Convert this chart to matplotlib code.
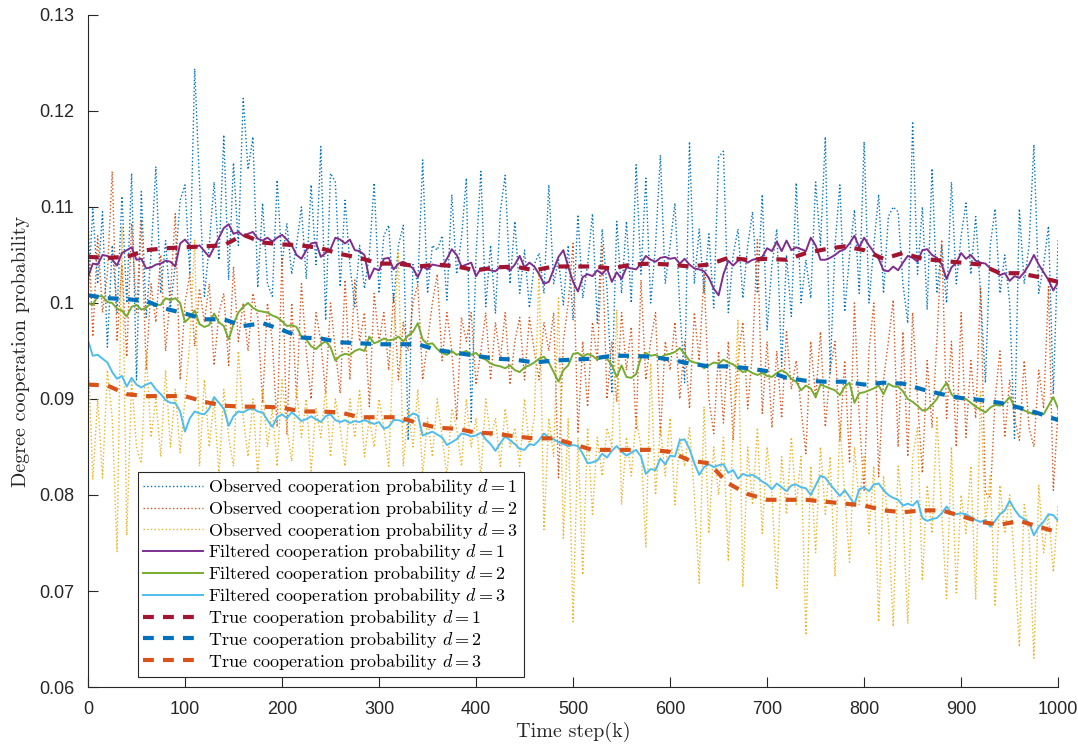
import numpy as np
import matplotlib
matplotlib.use("Agg")
import matplotlib.pyplot as plt

plt.rcParams['mathtext.fontset'] = 'cm'
plt.rcParams['axes.unicode_minus'] = False

# time axis: observations / filter output every 5 steps, true values every 20 steps
steps = np.arange(0, 1001, 5)
true_steps = np.arange(0, 1001, 20)

obs_d1 = [
    .1005, .1098, .1020, .1095, .0954, .1060, .0990, .1111, .1000, .1135,
    .0920, .1116, .0985, .1050, .1142, .1010, .1065, .0995, .1040, .1107,
    .1123, .1030, .1244, .1124, .1007, .1060, .1126, .1045, .1175, .1024,
    .1146, .1060, .1213, .1139, .1173, .1016, .1104, .1020, .1007, .1128,
    .1040, .1083, .1030, .1060, .1100, .1025, .1123, .1040, .1163, .0982,
    .1135, .1126, .1017, .1107, .1040, .0996, .1060, .1015, .1050, .1125,
    .1010, .1070, .1081, .1000, .1060, .1081, .0857, .1040, .1020, .1149,
    .1010, .1060, .1055, .1070, .1003, .1113, .1030, .1068, .1130, .0876,
    .1050, .1137, .0996, .1060, .0989, .1095, .1133, .1020, .1085, .1010,
    .1055, .0995, .1040, .1052, .1010, .1123, .1020, .1045, .0998, .1060,
    .0982, .1092, .1005, .1040, .1093, .0979, .1077, .1015, .0906, .1085,
    .1010, .1085, .1000, .1144, .1030, .1130, .1000, .1060, .1154, .1020,
    .1060, .1104, .0995, .0917, .1168, .1020, .1077, .1010, .1072, .0995,
    .1152, .1158, .0990, .1050, .1077, .1005, .1060, .1095, .1010, .1113,
    .0972, .1040, .1077, .0934, .1050, .0986, .1125, .1000, .1045, .1005,
    .1126, .1060, .1173, .0927, .1060, .1123, .0991, .1050, .1097, .1010,
    .1168, .1000, .1060, .1113, .1010, .1090, .1100, .1095, .1020, .0979,
    .1189, .1030, .1100, .0993, .1140, .1010, .1060, .1000, .1126, .1020,
    .1070, .1104, .1030, .1090, .1010, .0917, .1060, .1098, .1010, .1050,
    .1000, .0859, .1098, .1020, .1060, .1165, .1010, .1040, .1080, .0905,
    .1068,
]

obs_d2 = [
    .1090, .0965, .1070, .0990, .1030, .1137, .0960, .1040, .0944, .1083,
    .0990, .1087, .0930, .1020, .0980, .1050, .0950, .1010, .1093, .0920,
    .1000, .1030, .0955, .1015, .0980, .1020, .0935, .0990, .1010, .0935,
    .1038, .0960, .1000, .0950, .1010, .0985, .0896, .1000, .0960, .0871,
    .1048, .0863, .1000, .0900, .1020, .0950, .0900, .0990, .0960, .0905,
    .1000, .0950, .0906, .1024, .0920, .1024, .0960, .0990, .0892, .1010,
    .0960, .0990, .0930, .1010, .0920, .0980, .0950, .1000, .1020, .0920,
    .0960, .1000, .1030, .0940, .0990, .0950, .0878, .0985, .0960, .0990,
    .0915, .0950, .0990, .0920, .0980, .0940, .0990, .0915, .0960, .0985,
    .0920, .0985, .0950, .0920, .0980, .0950, .0990, .0818, .0960, .1000,
    .1062, .0864, .0960, .0892, .0980, .0940, .1059, .0900, .0960, .0897,
    .0990, .0930, .0975, .0868, .1024, .0920, .0960, .0990, .0861, .0960,
    .0930, .0980, .0900, .0960, .0890, .0990, .0940, .1031, .0900, .0864,
    .0950, .0875, .0960, .0857, .0940, .0980, .0890, .0950, .1066, .0885,
    .0960, .0870, .0950, .0880, .0970, .0910, .0940, .0890, .0843, .0960,
    .0900, .0970, .0871, .0930, .0960, .0857, .0940, .0833, .1000, .0880,
    .0805, .0950, .1000, .0819, .0920, .0960, .1003, .0850, .0970, .0840,
    .0990, .0900, .0823, .0940, .0870, .0960, .1066, .0880, .0960, .0850,
    .0990, .0860, .0940, .0880, .1017, .0802, .0798, .0900, .0950, .0860,
    .0920, .0880, .0857, .0940, .0870, .0850, .0930, .0890, .1017, .0805,
    .0890,
]

obs_d3 = [
    .0950, .0816, .0900, .0818, .0930, .0880, .0741, .1080, .0758, .0920,
    .0850, .0833, .0950, .0860, .0900, .0840, .0930, .0850, .0910, .0844,
    .0900, .0960, .1066, .0830, .0920, .0850, .0900, .0820, .0910, .0860,
    .0830, .0950, .0880, .0840, .0900, .0820, .0910, .0850, .0890, .0830,
    .0920, .0870, .0835, .0910, .0860, .0900, .0825, .0890, .0860, .0910,
    .0840, .0900, .0870, .0830, .0900, .0860, .0910, .0840, .0880, .0850,
    .0900, .0870, .0830, .0960, .1052, .0830, .0890, .0850, .0910, .0820,
    .0880, .0840, .0900, .0860, .0820, .0890, .0870, .0830, .0900, .0850,
    .0880, .0819, .0900, .0860, .0880, .0830, .0890, .0850, .0870, .0830,
    .0900, .0850, .0880, .1036, .0764, .0880, .0840, .1005, .0755, .0880,
    .0668, .0860, .0717, .0870, .0780, .0860, .0820, .0870, .0850, .0993,
    .0790, .0860, .0820, .0880, .0850, .0746, .0937, .0800, .0870, .0820,
    .0880, .0790, .0860, .0830, .0870, .0800, .0708, .0892, .0760, .0850,
    .0800, .0860, .0731, .0870, .0982, .0704, .0850, .0790, .0870, .0760,
    .0850, .0800, .0703, .0840, .0780, .0860, .0790, .0840, .0654, .0830,
    .0740, .0850, .0780, .0840, .0715, .0875, .0800, .0730, .0850, .0790,
    .0840, .0760, .0830, .0668, .0820, .0770, .0663, .0830, .0780, .0666,
    .0840, .0870, .0711, .0810, .0760, .0882, .0780, .0692, .0850, .0698,
    .0800, .0760, .0830, .0691, .0909, .0770, .0820, .0684, .0810, .0760,
    .0800, .0730, .0642, .0790, .0760, .0630, .0810, .0740, .0780, .0720,
    .0790,
]

filt_d1 = [
    .1027, .1041, .1040, .1050, .1049, .1045, .1039, .1052, .1055, .1058,
    .1045, .1046, .1036, .1037, .1040, .1041, .1044, .1043, .1038, .1062,
    .1066, .1060, .1058, .1060, .1054, .1048, .1058, .1068, .1078, .1082,
    .1072, .1074, .1070, .1072, .1074, .1067, .1065, .1068, .1064, .1068,
    .1071, .1066, .1060, .1050, .1046, .1055, .1062, .1063, .1048, .1052,
    .1056, .1068, .1066, .1062, .1066, .1055, .1054, .1050, .1025, .1036,
    .1034, .1046, .1047, .1035, .1041, .1043, .1040, .1036, .1027, .1038,
    .1035, .1040, .1039, .1038, .1046, .1056, .1050, .1038, .1040, .1042,
    .1028, .1036, .1036, .1034, .1033, .1038, .1037, .1034, .1040, .1049,
    .1037, .1042, .1038, .1030, .1020, .1022, .1035, .1048, .1055, .1038,
    .1022, .1012, .1027, .1030, .1028, .1034, .1030, .1036, .1022, .1032,
    .1025, .1037, .1036, .1035, .1041, .1049, .1045, .1043, .1047, .1048,
    .1046, .1047, .1041, .1046, .1040, .1036, .1035, .1033, .1026, .1015,
    .1008, .1030, .1044, .1039, .1044, .1045, .1042, .1045, .1046, .1048,
    .1057, .1054, .1064, .1054, .1065, .1055, .1058, .1056, .1054, .1068,
    .1060, .1045, .1045, .1047, .1050, .1054, .1056, .1062, .1070, .1058,
    .1068, .1060, .1053, .1046, .1034, .1033, .1038, .1034, .1042, .1049,
    .1047, .1043, .1055, .1056, .1050, .1047, .1040, .1025, .1037, .1042,
    .1052, .1046, .1050, .1044, .1042, .1041, .1036, .1033, .1029, .1031,
    .1023, .1028, .1026, .1032, .1040, .1050, .1040, .1032, .1024, .1013,
    .1022,
]

filt_d2 = [
    .1000, .0998, .1007, .1007, .1001, .1000, .0994, .0992, .0986, .0996,
    .0998, .0993, .0995, .1000, .0998, .0998, .1005, .1003, .1005, .1000,
    .0980, .0985, .0992, .0978, .0975, .0977, .0989, .0980, .0976, .0962,
    .0978, .0990, .0996, .1000, .0995, .0992, .0991, .0990, .0987, .0985,
    .0981, .0976, .0977, .0975, .0965, .0962, .0955, .0952, .0957, .0960,
    .0954, .0940, .0945, .0947, .0946, .0950, .0952, .0950, .0965, .0958,
    .0960, .0963, .0961, .0962, .0965, .0960, .0966, .0970, .0979, .0962,
    .0957, .0958, .0952, .0948, .0946, .0950, .0946, .0948, .0950, .0946,
    .0948, .0943, .0941, .0937, .0935, .0934, .0932, .0935, .0930, .0928,
    .0933, .0935, .0938, .0942, .0944, .0938, .0928, .0918, .0930, .0935,
    .0947, .0948, .0944, .0947, .0945, .0941, .0944, .0942, .0935, .0923,
    .0935, .0923, .0922, .0926, .0943, .0948, .0945, .0946, .0943, .0946,
    .0947, .0949, .0953, .0947, .0940, .0938, .0937, .0932, .0935, .0938,
    .0937, .0941, .0938, .0936, .0932, .0928, .0930, .0927, .0925, .0927,
    .0924, .0923, .0927, .0930, .0927, .0921, .0918, .0909, .0914, .0911,
    .0902, .0915, .0913, .0911, .0909, .0904, .0913, .0917, .0896, .0906,
    .0907, .0909, .0911, .0914, .0905, .0916, .0913, .0913, .0908, .0900,
    .0897, .0893, .0888, .0889, .0894, .0900, .0910, .0917, .0905, .0900,
    .0902, .0900, .0896, .0892, .0889, .0886, .0891, .0894, .0893, .0896,
    .0902, .0892, .0891, .0888, .0886, .0884, .0885, .0884, .0893, .0902,
    .0890,
]

filt_d3 = [
    .0961, .0945, .0946, .0942, .0938, .0928, .0921, .0924, .0913, .0922,
    .0915, .0912, .0915, .0917, .0910, .0905, .0899, .0896, .0896, .0887,
    .0866, .0880, .0887, .0885, .0884, .0890, .0902, .0896, .0890, .0872,
    .0882, .0887, .0886, .0889, .0890, .0887, .0886, .0878, .0871, .0881,
    .0884, .0880, .0886, .0882, .0877, .0879, .0882, .0879, .0876, .0882,
    .0884, .0878, .0876, .0878, .0875, .0877, .0876, .0878, .0876, .0874,
    .0876, .0869, .0871, .0878, .0878, .0876, .0881, .0885, .0883, .0862,
    .0864, .0866, .0863, .0860, .0852, .0855, .0858, .0864, .0863, .0861,
    .0862, .0865, .0858, .0853, .0846, .0854, .0861, .0857, .0853, .0848,
    .0847, .0853, .0852, .0857, .0864, .0860, .0858, .0855, .0853, .0851,
    .0852, .0851, .0843, .0833, .0834, .0836, .0843, .0839, .0846, .0851,
    .0845, .0841, .0844, .0847, .0840, .0822, .0827, .0826, .0838, .0832,
    .0841, .0840, .0857, .0858, .0848, .0833, .0821, .0829, .0832, .0829,
    .0831, .0832, .0823, .0826, .0817, .0822, .0820, .0821, .0818, .0814,
    .0811, .0806, .0812, .0808, .0804, .0810, .0811, .0808, .0807, .0800,
    .0810, .0820, .0818, .0811, .0805, .0799, .0805, .0798, .0790, .0806,
    .0808, .0804, .0811, .0812, .0805, .0800, .0797, .0795, .0789, .0791,
    .0789, .0794, .0776, .0773, .0775, .0776, .0781, .0788, .0781, .0780,
    .0781, .0780, .0777, .0774, .0772, .0774, .0767, .0773, .0780, .0784,
    .0794, .0785, .0778, .0775, .0771, .0758, .0767, .0772, .0780, .0779,
    .0773,
]

true_d1 = [
    .1048, .1047, .1048, .1055, .1057, .1058, .1059, .1060, .1071, .1063,
    .1061, .1060, .1057, .1051, .1047, .1041, .1041, .1038, .1040, .1038,
    .1034, .1037, .1038, .1034, .1038, .1038, .1038, .1036, .1040, .1041,
    .1040, .1038, .1040, .1047, .1045, .1046, .1045, .1052, .1056, .1059,
    .1055, .1046, .1052, .1046, .1044, .1042, .1040, .1031, .1031, .1027,
    .1022,
]

true_d2 = [
    .1008, .1005, .1004, .1002, .0994, .0989, .0983, .0983, .0976, .0979,
    .0972, .0964, .0963, .0959, .0958, .0957, .0957, .0957, .0951, .0948,
    .0945, .0942, .0941, .0938, .0940, .0941, .0942, .0945, .0945, .0944,
    .0941, .0937, .0934, .0934, .0932, .0929, .0922, .0919, .0918, .0918,
    .0915, .0917, .0916, .0910, .0905, .0901, .0899, .0896, .0891, .0885,
    .0878,
]

true_d3 = [
    .0915, .0914, .0905, .0903, .0903, .0903, .0897, .0893, .0892, .0892,
    .0891, .0887, .0887, .0886, .0881, .0881, .0881, .0875, .0870, .0869,
    .0865, .0864, .0861, .0859, .0859, .0853, .0847, .0847, .0847, .0847,
    .0845, .0836, .0833, .0812, .0801, .0795, .0795, .0795, .0793, .0791,
    .0789, .0784, .0782, .0784, .0784, .0778, .0772, .0769, .0773, .0767,
    .0761,
]

c_blue = '#0072BD'
c_orange = '#D95319'
c_yellow = '#EDB120'
c_purple = '#7E2F8E'
c_green = '#77AC30'
c_cyan = '#4DBEEE'
c_red = '#A2142F'

fig = plt.figure(figsize=(10.78, 7.47), dpi=100)
ax = fig.add_axes([0.0816, 0.0803, 0.9, 0.8997])

ax.plot(steps, obs_d1, ':', color=c_blue, lw=1.0, label=r'Observed cooperation probability $d=1$')
ax.plot(steps, obs_d2, ':', color=c_orange, lw=1.0, label=r'Observed cooperation probability $d=2$')
ax.plot(steps, obs_d3, ':', color=c_yellow, lw=1.0, label=r'Observed cooperation probability $d=3$')
ax.plot(steps, filt_d1, '-', color=c_purple, lw=1.4, label=r'Filtered cooperation probability $d=1$')
ax.plot(steps, filt_d2, '-', color=c_green, lw=1.4, label=r'Filtered cooperation probability $d=2$')
ax.plot(steps, filt_d3, '-', color=c_cyan, lw=1.4, label=r'Filtered cooperation probability $d=3$')
dash = (2.6, 2.2)
ax.plot(true_steps, true_d1, color=c_red, lw=3, dashes=dash, label=r'True cooperation probability $d=1$')
ax.plot(true_steps, true_d2, color=c_blue, lw=3, dashes=dash, label=r'True cooperation probability $d=2$')
ax.plot(true_steps, true_d3, color=c_orange, lw=3, dashes=dash, label=r'True cooperation probability $d=3$')

ax.set_xlim(0, 1000)
ax.set_ylim(0.06, 0.13)
ax.set_xticks(np.arange(0, 1001, 100))
yt = [0.06, 0.07, 0.08, 0.09, 0.1, 0.11, 0.12, 0.13]
ax.set_yticks(yt)
ax.set_yticklabels(['%g' % v for v in yt])

for s in ['top', 'right']:
    ax.spines[s].set_visible(False)
for s in ['left', 'bottom']:
    ax.spines[s].set_color('#262626')
    ax.spines[s].set_linewidth(0.8)

ax.tick_params(direction='in', length=7.5, width=0.8, color='#262626',
               labelsize=13, labelcolor='#262626', pad=10)
for lab in ax.get_xticklabels() + ax.get_yticklabels():
    lab.set_family('Liberation Sans')

ax.set_xlabel('Time step(k)', fontsize=14.5, family='cmr10', color='#262626')
ax.set_ylabel('Degree cooperation probability', fontsize=14.5, family='cmr10', color='#262626')
ax.xaxis.set_label_coords(0.5, -0.052)
ax.yaxis.set_label_coords(-0.060, 0.5)

leg = ax.legend(loc='lower left', bbox_to_anchor=(0.0515, 0.015),
                prop={'family': 'cmr10', 'size': 13},
                frameon=True, fancybox=False, framealpha=1,
                edgecolor='#262626', handlelength=3.3, handletextpad=0.3,
                labelspacing=0.1, borderpad=0.3, borderaxespad=0)
leg.get_frame().set_linewidth(0.8)

fig.savefig('out.png', dpi=100)
